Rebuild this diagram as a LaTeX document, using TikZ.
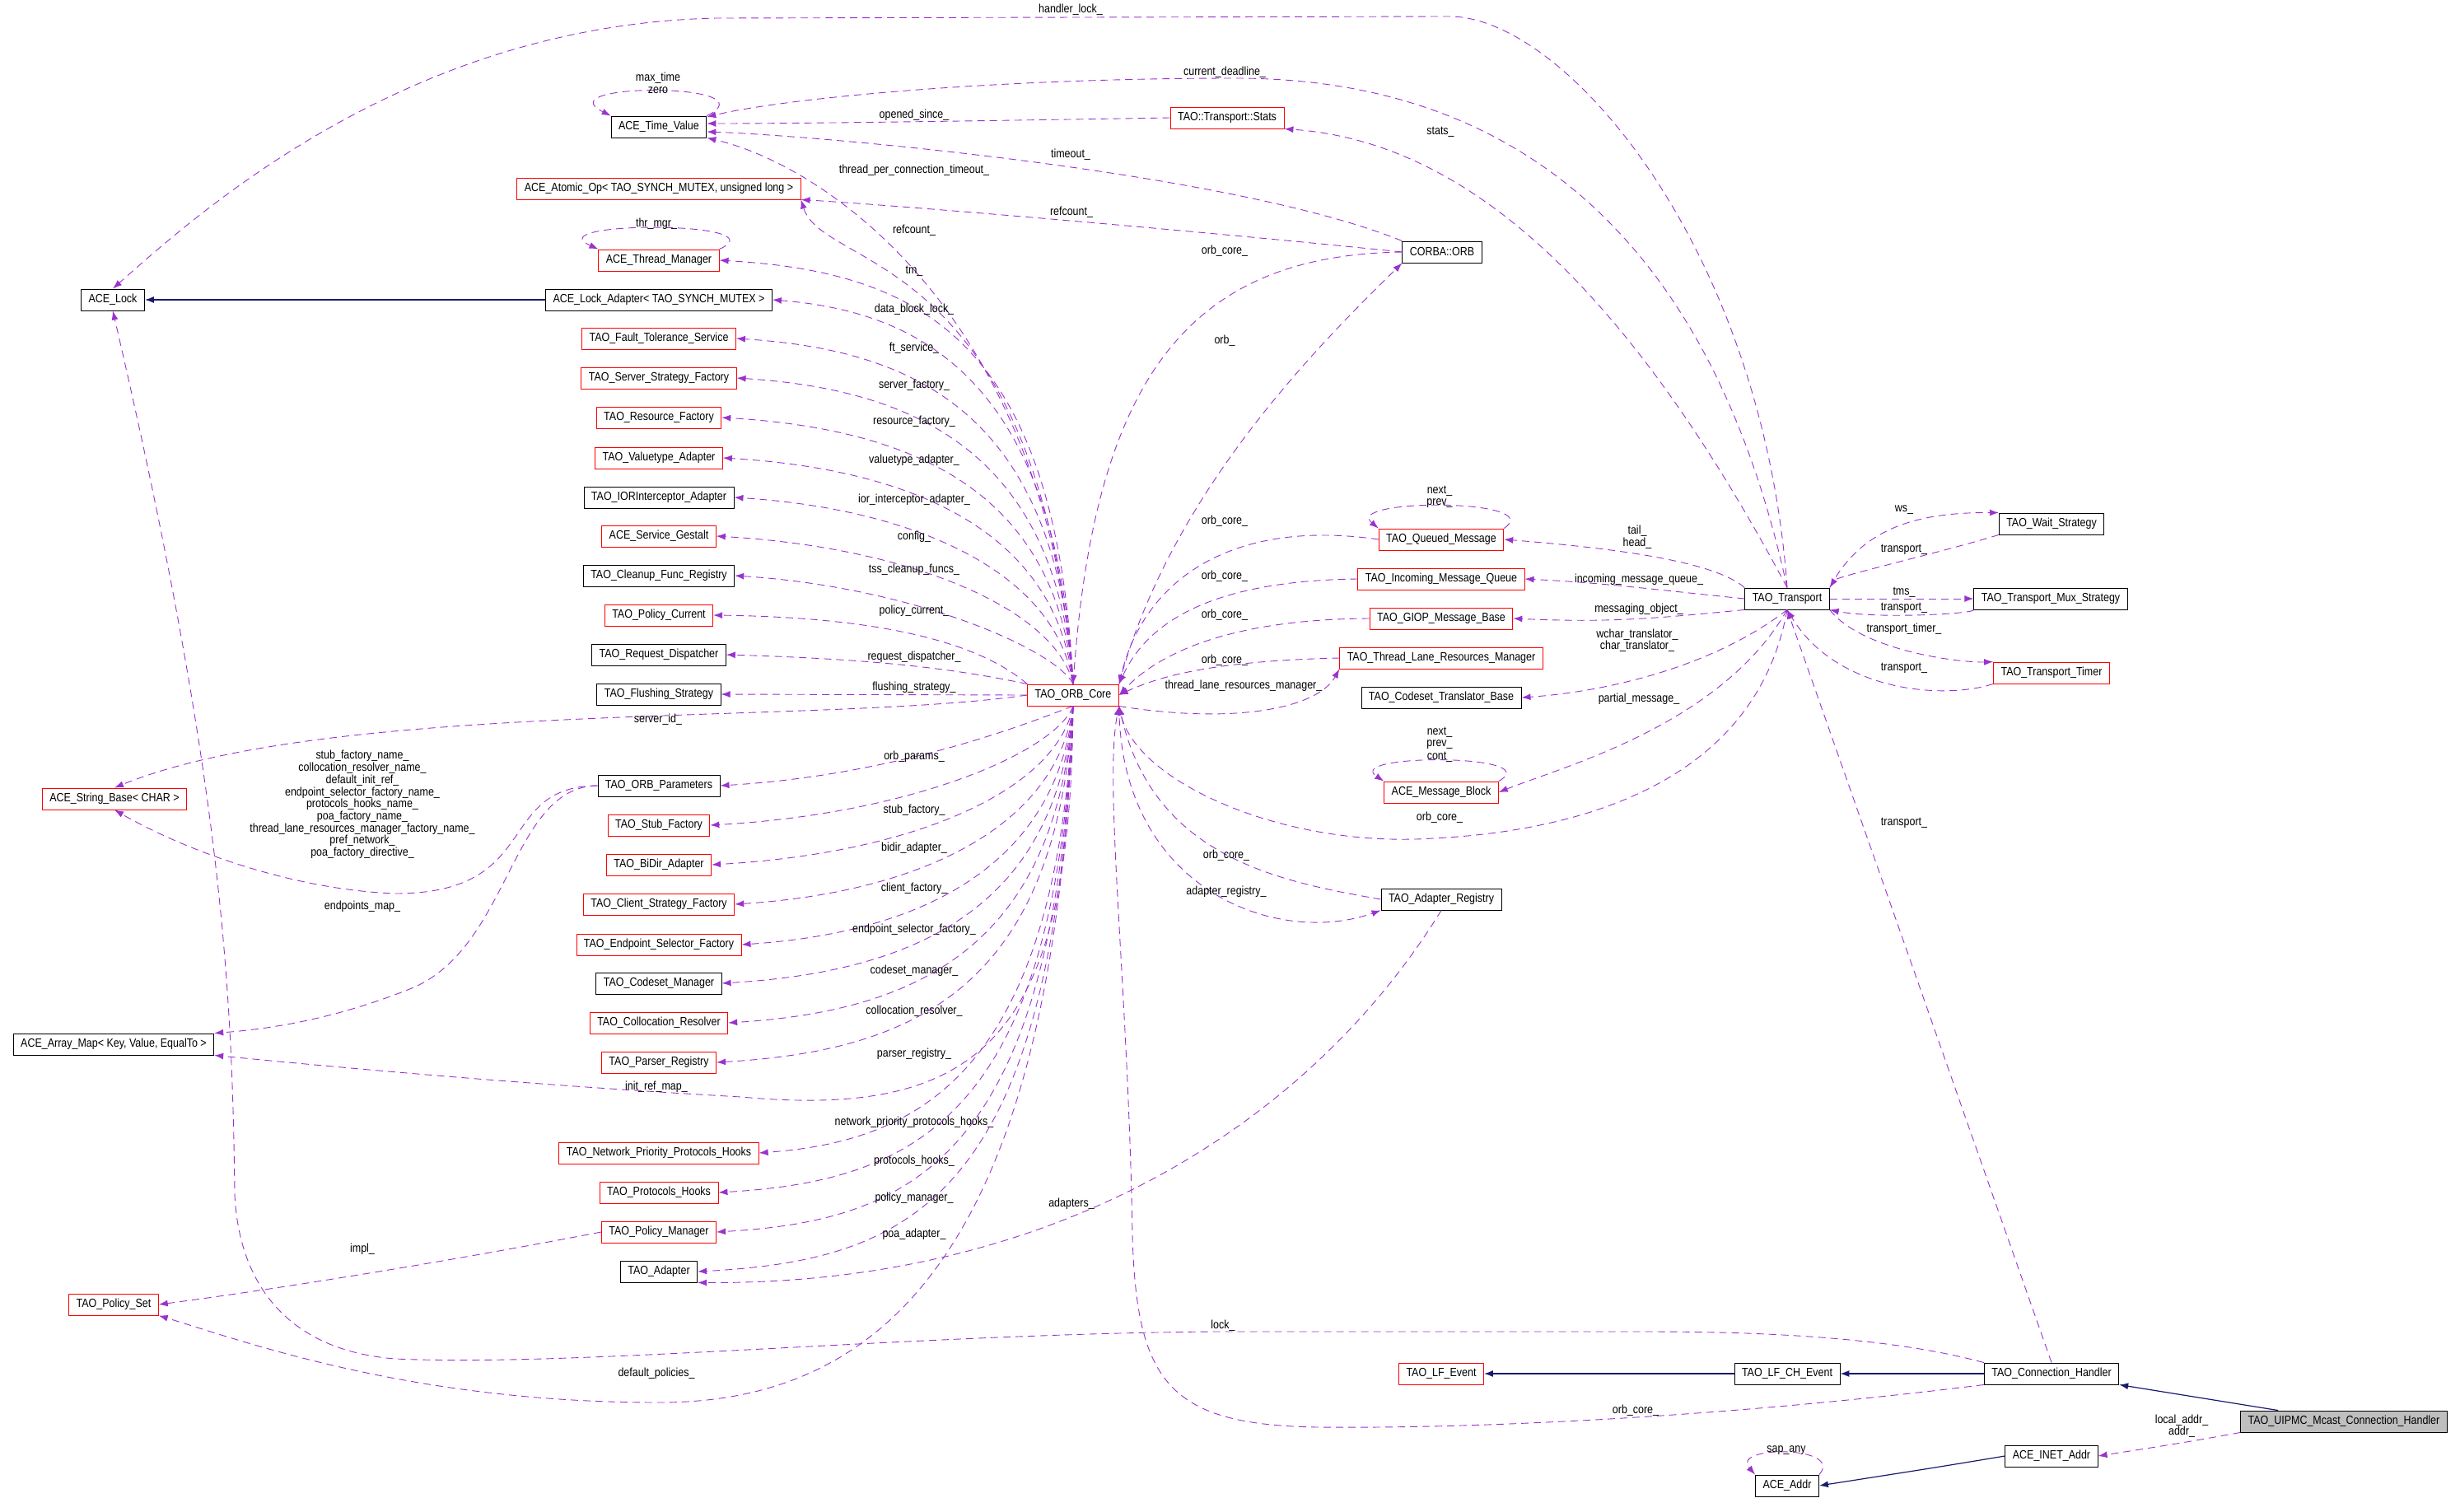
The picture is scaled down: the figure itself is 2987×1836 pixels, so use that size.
\documentclass[tikz,border=0pt]{standalone}
\usepackage{fontspec}
\setmainfont{Liberation Sans}[FakeStretch=0.86]
\usetikzlibrary{arrows.meta,calc}
\definecolor{dep}{HTML}{9A32CD}
\definecolor{inh}{HTML}{191970}
\newcommand\dxf{\fontsize{14.5}{14.7}\selectfont}
\tikzset{
 box/.style={draw=black,line width=0.9pt,minimum height=26pt,inner xsep=9pt,inner ysep=2pt,font=\dxf,fill=white},
 rbox/.style={box,draw=red},
 gbox/.style={box,fill=black!25},
 dep/.style={draw=dep,line width=0.9pt,dash pattern=on 9pt off 6pt,-{Latex[length=11pt,width=8pt]}},
 inh/.style={draw=inh,line width=1.2pt,-{Latex[length=11pt,width=8pt]}},
 lbl/.style={font=\dxf,inner sep=1pt,align=center},
}
\newcommand\CoreUp[4]{\draw[dep] (core.north) .. controls (1282,#2+90) and (1110,#2+14) .. (#1.east); \node[lbl] at (1110,#4) {#3};}
\newcommand\CoreDn[4]{\draw[dep] (core.south) .. controls (1282,#2-90) and (1110,#2-14) .. (#1.east); \node[lbl] at (1110,#4) {#3};}
\begin{document}
\begin{tikzpicture}[x=1pt,y=-1pt]
\useasboundingbox (0,0) rectangle (2987,1836);
% left column
\node[box] (tv) at (800,154) {ACE\_Time\_Value};
\node[rbox] (atomic) at (800,229) {ACE\_Atomic\_Op< TAO\_SYNCH\_MUTEX, unsigned long >};
\node[rbox] (thm) at (800,316) {ACE\_Thread\_Manager};
\node[box] (lock) at (137,364) {ACE\_Lock};
\node[box] (la) at (800,364) {ACE\_Lock\_Adapter< TAO\_SYNCH\_MUTEX >};
\node[rbox] (ft) at (800,411) {TAO\_Fault\_Tolerance\_Service};
\node[rbox] (ssf) at (800,459) {TAO\_Server\_Strategy\_Factory};
\node[rbox] (rf) at (800,507) {TAO\_Resource\_Factory};
\node[rbox] (vta) at (800,556) {TAO\_Valuetype\_Adapter};
\node[box] (ior) at (800,604) {TAO\_IORInterceptor\_Adapter};
\node[rbox] (sg) at (800,651) {ACE\_Service\_Gestalt};
\node[box] (cfr) at (800,699) {TAO\_Cleanup\_Func\_Registry};
\node[rbox] (pc) at (800,747) {TAO\_Policy\_Current};
\node[box] (rd) at (800,795) {TAO\_Request\_Dispatcher};
\node[box] (fs) at (800,843) {TAO\_Flushing\_Strategy};
\node[rbox] (core) at (1303,844) {TAO\_ORB\_Core};
\node[rbox] (sb) at (139,970) {ACE\_String\_Base< CHAR >};
\node[box] (op) at (800,954) {TAO\_ORB\_Parameters};
\node[rbox] (stub) at (800,1002) {TAO\_Stub\_Factory};
\node[rbox] (bidir) at (800,1050) {TAO\_BiDir\_Adapter};
\node[rbox] (csf) at (800,1098) {TAO\_Client\_Strategy\_Factory};
\node[rbox] (esf) at (800,1147) {TAO\_Endpoint\_Selector\_Factory};
\node[box] (cm) at (800,1194) {TAO\_Codeset\_Manager};
\node[rbox] (cr) at (800,1242) {TAO\_Collocation\_Resolver};
\node[rbox] (pr) at (800,1290) {TAO\_Parser\_Registry};
\node[box] (am) at (138,1268) {ACE\_Array\_Map< Key, Value, EqualTo >};
\node[rbox] (npph) at (800,1400) {TAO\_Network\_Priority\_Protocols\_Hooks};
\node[rbox] (ph) at (800,1448) {TAO\_Protocols\_Hooks};
\node[rbox] (pm) at (800,1496) {TAO\_Policy\_Manager};
\node[box] (adp) at (800,1544) {TAO\_Adapter};
\node[rbox] (ps) at (138,1584) {TAO\_Policy\_Set};
% middle column
\node[rbox] (stats) at (1490,143) {TAO::Transport::Stats};
\node[box] (orb) at (1751,306) {CORBA::ORB};
\node[rbox] (qm) at (1750,655) {TAO\_Queued\_Message};
\node[rbox] (imq) at (1750,703) {TAO\_Incoming\_Message\_Queue};
\node[rbox] (giop) at (1750,751) {TAO\_GIOP\_Message\_Base};
\node[rbox] (tl) at (1750,799) {TAO\_Thread\_Lane\_Resources\_Manager};
\node[box] (ctb) at (1750,847) {TAO\_Codeset\_Translator\_Base};
\node[rbox] (mb) at (1750,962) {ACE\_Message\_Block};
\node[box] (ar) at (1750,1092) {TAO\_Adapter\_Registry};
\node[rbox] (lfe) at (1750,1668) {TAO\_LF\_Event};
% right
\node[box] (tr) at (2170,727) {TAO\_Transport};
\node[box] (ws) at (2491,636) {TAO\_Wait\_Strategy};
\node[box] (mux) at (2490,727) {TAO\_Transport\_Mux\_Strategy};
\node[rbox] (tmr) at (2491,817) {TAO\_Transport\_Timer};
\node[box] (lfch) at (2170,1668) {TAO\_LF\_CH\_Event};
\node[box] (ch) at (2491,1668) {TAO\_Connection\_Handler};
\node[gbox] (ui) at (2846,1726) {TAO\_UIPMC\_Mcast\_Connection\_Handler};
\node[box] (inet) at (2491,1768) {ACE\_INET\_Addr};
\node[box] (addr) at (2170,1804) {ACE\_Addr};

% inheritance
\draw[inh] (la.west) -- (lock.east);
\draw[inh] (ch.west) -- (lfch.east);
\draw[inh] (lfch.west) -- (lfe.east);
\draw[inh] ($(ui.north)+(-80,0)$) -- (ch.south east);
\draw[inh] (inet.west) .. controls (2350,1782) .. (addr.east);

% self loops
\draw[dep] (tv.north east) .. controls (940,100) and (660,100) .. (tv.north west);
\node[lbl] at (799,95) {max\_time};
\node[lbl] at (799,110) {zero};
\draw[dep] (thm.north east) .. controls (950,268) and (650,268) .. (thm.north west);
\node[lbl] at (797,272) {thr\_mgr\_};
\draw[dep] (qm.north east) .. controls (1880,605) and (1630,605) .. (qm.north west);
\node[lbl] at (1748,596) {next\_};
\node[lbl] at (1748,611) {prev\_};
\draw[dep] (mb.north east) .. controls (1880,915) and (1630,915) .. (mb.north west);
\node[lbl] at (1748,889) {next\_};
\node[lbl] at (1748,904) {prev\_};
\node[lbl] at (1748,919) {cont\_};
\draw[dep] (addr.north east) .. controls (2240,1755) and (2100,1755) .. (addr.north west);
\node[lbl] at (2169,1761) {sap\_any};

% ORB_Core fan, upper
\draw[dep] (core.north) .. controls (1270,380) and (1000,200) .. (tv.south east);
\node[lbl] at (1110,207) {thread\_per\_connection\_timeout\_};
\draw[dep] (core.north) .. controls (1260,300) and (1000,330) .. (atomic.south east);
\node[lbl] at (1110,280) {refcount\_};
\CoreUp{thm}{316}{tm\_}{329}
\CoreUp{la}{364}{data\_block\_lock\_}{376}
\CoreUp{ft}{411}{ft\_service\_}{423}
\CoreUp{ssf}{459}{server\_factory\_}{468}
\CoreUp{rf}{507}{resource\_factory\_}{512}
\CoreUp{vta}{556}{valuetype\_adapter\_}{559}
\CoreUp{ior}{604}{ior\_interceptor\_adapter\_}{607}
\CoreUp{sg}{651}{config\_}{652}
\CoreUp{cfr}{699}{tss\_cleanup\_funcs\_}{692}
\draw[dep] (core.north west) .. controls (1200,790) and (1100,750) .. (pc.east);
\node[lbl] at (1110,742) {policy\_current\_};
\draw[dep] (core.north west) .. controls (1150,810) and (1050,800) .. (rd.east);
\node[lbl] at (1110,798) {request\_dispatcher\_};
\draw[dep] (core.west) -- (fs.east);
\node[lbl] at (1110,835) {flushing\_strategy\_};
\draw[dep] (core.west) .. controls (1000,880) and (400,850) .. (sb.north);
\node[lbl] at (799,874) {server\_id\_};
% lower
\CoreDn{op}{954}{orb\_params\_}{919}
\CoreDn{stub}{1002}{stub\_factory\_}{984}
\CoreDn{bidir}{1050}{bidir\_adapter\_}{1030}
\CoreDn{csf}{1098}{client\_factory\_}{1079}
\CoreDn{esf}{1147}{endpoint\_selector\_factory\_}{1129}
\CoreDn{cm}{1194}{codeset\_manager\_}{1179}
\CoreDn{cr}{1242}{collocation\_resolver\_}{1228}
\CoreDn{pr}{1290}{parser\_registry\_}{1280}
\CoreDn{npph}{1400}{network\_priority\_protocols\_hooks\_}{1363}
\CoreDn{ph}{1448}{protocols\_hooks\_}{1410}
\CoreDn{pm}{1496}{policy\_manager\_}{1455}
\CoreDn{adp}{1544}{poa\_adapter\_}{1499}
\draw[dep] (core.south) .. controls (1300,1250) and (1200,1360) .. (900,1332) .. controls (600,1315) and (350,1290) .. (am.south east);
\node[lbl] at (797,1320) {init\_ref\_map\_};
\draw[dep] (core.south) .. controls (1280,1550) and (1050,1703) .. (800,1703) .. controls (500,1703) and (300,1630) .. (ps.south east);
\node[lbl] at (797,1668) {default\_policies\_};

% ORB_Parameters
\draw[dep] (op.west) .. controls (600,955) and (660,1085) .. (480,1085) .. controls (350,1080) and (220,1030) .. (sb.south);
\node[lbl] at (440,977) {stub\_factory\_name\_\\collocation\_resolver\_name\_\\default\_init\_ref\_\\endpoint\_selector\_factory\_name\_\\protocols\_hooks\_name\_\\poa\_factory\_name\_\\thread\_lane\_resources\_manager\_factory\_name\_\\pref\_network\_\\poa\_factory\_directive\_};
\draw[dep] (op.west) .. controls (620,955) and (620,1150) .. (500,1200) .. controls (400,1240) and (320,1250) .. (am.north east);
\node[lbl] at (440,1101) {endpoints\_map\_};
\draw[dep] (pm.west) .. controls (500,1540) and (300,1570) .. (ps.east);
\node[lbl] at (440,1517) {impl\_};

% CORBA::ORB
\draw[dep] (orb.north west) .. controls (1500,210) and (1000,165) .. ($(tv.east)+(0,6)$);
\node[lbl] at (1300,188) {timeout\_};
\draw[dep] (orb.west) .. controls (1450,280) and (1100,250) .. (atomic.south east);
\node[lbl] at (1301,258) {refcount\_};
\draw[dep] (orb.west) .. controls (1450,310) and (1330,450) .. (core.north);
\node[lbl] at (1487,305) {orb\_core\_};
\draw[dep] (core.north east) .. controls (1420,600) and (1600,420) .. (orb.south west);
\node[lbl] at (1487,414) {orb\_};
\draw[dep] (stats.west) .. controls (1300,145) and (1000,150) .. ($(tv.east)+(0,-4)$);
\node[lbl] at (1110,140) {opened\_since\_};

% middle to core
\draw[dep] (qm.west) .. controls (1500,630) and (1390,700) .. (core.north east);
\node[lbl] at (1487,633) {orb\_core\_};
\draw[dep] (imq.west) .. controls (1500,705) and (1400,740) .. (core.north east);
\node[lbl] at (1487,700) {orb\_core\_};
\draw[dep] (giop.west) .. controls (1500,752) and (1410,790) .. (core.east);
\node[lbl] at (1487,747) {orb\_core\_};
\draw[dep] (tl.west) .. controls (1500,802) and (1420,815) .. (core.east);
\node[lbl] at (1487,802) {orb\_core\_};
\draw[dep] (core.south east) .. controls (1500,880) and (1600,860) .. (tl.south west);
\node[lbl] at (1510,833) {thread\_lane\_resources\_manager\_};
\draw[dep] (ar.west) .. controls (1550,1070) and (1400,1040) .. (core.south east);
\node[lbl] at (1489,1039) {orb\_core\_};
\draw[dep] (core.south east) .. controls (1360,1080) and (1550,1150) .. (ar.south west);
\node[lbl] at (1489,1083) {adapter\_registry\_};
\draw[dep] (ar.south) .. controls (1600,1350) and (1300,1560) .. (adp.south east);
\node[lbl] at (1301,1462) {adapters\_};

% Transport
\draw[dep] (tr.north) .. controls (2140,300) and (1900,20) .. (1760,20) -- (870,22) .. controls (500,30) and (250,250) .. (lock.north);
\node[lbl] at (1300,12) {handler\_lock\_};
\draw[dep] (tr.north) .. controls (2080,300) and (1850,95) .. (1500,95) .. controls (1200,95) and (950,120) .. ($(tv.east)+(0,-12)$);
\node[lbl] at (1487,88) {current\_deadline\_};
\draw[dep] (tr.north) .. controls (1950,300) and (1750,170) .. (stats.south east);
\node[lbl] at (1749,160) {stats\_};
\draw[dep] (tr.north west) .. controls (2080,680) and (1950,665) .. (qm.east);
\node[lbl] at (1988,645) {tail\_};
\node[lbl] at (1988,660) {head\_};
\draw[dep] (tr.west) .. controls (2000,715) and (1950,708) .. (imq.east);
\node[lbl] at (1990,704) {incoming\_message\_queue\_};
\draw[dep] (tr.south west) .. controls (2000,752) and (1950,756) .. (giop.east);
\node[lbl] at (1990,740) {messaging\_object\_};
\draw[dep] (tr.south) .. controls (2080,810) and (1950,840) .. (ctb.east);
\node[lbl] at (1988,771) {wchar\_translator\_};
\node[lbl] at (1988,785) {char\_translator\_};
\draw[dep] (tr.south) .. controls (2090,880) and (1900,930) .. (mb.east);
\node[lbl] at (1990,849) {partial\_message\_};
\draw[dep] (tr.south) .. controls (2130,960) and (1900,1010) .. (1740,1018) .. controls (1560,1030) and (1380,950) .. (core.south east);
\node[lbl] at (1748,993) {orb\_core\_};
\draw[dep] (tr.north east) .. controls (2260,640) and (2330,622) .. (ws.north west);
\node[lbl] at (2312,619) {ws\_};
\draw[dep] (ws.south west) .. controls (2360,670) and (2230,700) .. (tr.north east);
\node[lbl] at (2312,667) {transport\_};
\draw[dep] (tr.east) -- (mux.west);
\node[lbl] at (2312,719) {tms\_};
\draw[dep] (mux.south west) .. controls (2400,745) and (2280,752) .. (tr.south east);
\node[lbl] at (2312,738) {transport\_};
\draw[dep] (tr.south east) .. controls (2260,790) and (2380,805) .. (tmr.north west);
\node[lbl] at (2312,764) {transport\_timer\_};
\draw[dep] (tmr.south west) .. controls (2360,850) and (2230,840) .. (tr.south);
\node[lbl] at (2312,811) {transport\_};

% Connection handler
\draw[dep] (ch.north) -- (tr.south);
\node[lbl] at (2312,999) {transport\_};
\draw[dep] (ch.north west) .. controls (2300,1625) and (2150,1617) .. (2000,1617) -- (1474,1617) .. controls (1100,1620) and (700,1660) .. (480,1650) .. controls (350,1640) and (290,1560) .. (285,1450) .. controls (282,1200) and (270,950) .. (lock.south);
\node[lbl] at (1485,1610) {lock\_};
\draw[dep] (ch.south west) .. controls (2100,1720) and (1800,1735) .. (1600,1733) .. controls (1420,1730) and (1380,1680) .. (1375,1500) .. controls (1370,1200) and (1340,950) .. (core.south east);
\node[lbl] at (1986,1713) {orb\_core\_};
\draw[dep] (ui.south west) .. controls (2650,1752) .. (inet.east);
\node[lbl] at (2649,1725) {local\_addr\_};
\node[lbl] at (2649,1739) {addr\_};
\end{tikzpicture}
\end{document}
